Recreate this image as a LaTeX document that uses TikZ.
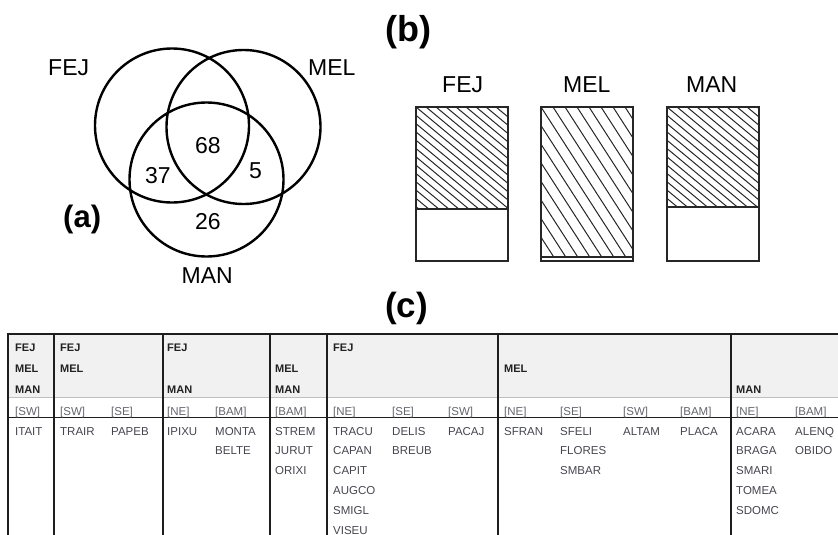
\documentclass[tikz,border=0pt]{standalone}
\usepackage{fontspec}
\setmainfont{Liberation Sans}
\definecolor{hdrbg}{HTML}{F1F1F1}
\definecolor{dattxt}{HTML}{45454F}
\definecolor{subtxt}{HTML}{65656F}
\definecolor{hdrtxt}{HTML}{222222}
\definecolor{rule}{HTML}{1E1E1E}
\begin{document}
\begin{tikzpicture}[x=1pt,y=-1pt,
  venn/.style={draw=black,line width=2.4pt},
  lab/.style={inner sep=0pt,anchor=base west,font=\fontsize{23}{23}\selectfont},
  panel/.style={inner sep=0pt,anchor=base west,font=\fontsize{35}{35}\selectfont\bfseries},
  barbox/.style={draw=black!85,line width=1.2pt},
  hatch/.style={draw=black!85,line width=1pt},
  hdr/.style={inner sep=0pt,anchor=base west,text=hdrtxt,font=\fontsize{11}{11}\selectfont\bfseries},
  subh/.style={inner sep=0pt,anchor=base west,text=subtxt,font=\fontsize{11.5}{11.5}\selectfont},
  dat/.style={inner sep=0pt,anchor=base west,text=dattxt,font=\fontsize{11.5}{11.5}\selectfont},
  vrule/.style={draw=rule,line width=2pt},
]
\useasboundingbox (0,0) rectangle (838,535);

% ---------------- (a) Venn ----------------
\draw[venn] (172,125.5) circle[radius=77pt];
\draw[venn] (243.5,127) circle[radius=77pt];
\draw[venn] (206.5,179.5) circle[radius=77pt];
\node[lab] (vfej) at (48,76) {FEJ};
\node[lab] (vmel) at (308,76) {MEL};
\node[lab] (vman) at (181.5,283) {MAN};
\node[lab] (n68) at (195,153) {68};
\node[lab] (n37) at (145,183) {37};
\node[lab] (n5) at (249,178) {5};
\node[lab] (n26) at (195,229) {26};
\node[panel,font=\fontsize{31}{31}\selectfont\bfseries] (pa) at (63,227) {(a)};

% ---------------- (b) bars ----------------
\node[panel,font=\fontsize{36}{36}\selectfont\bfseries] (pb) at (385,42) {(b)};
\node[lab] (bfej) at (442,92.5) {FEJ};
\node[lab] (bmel) at (563,92.5) {MEL};
\node[lab] (bman) at (686,92.5) {MAN};

\begin{scope}
  \clip (416,107) rectangle (508,209);
  \foreach \k in {-13,...,10} \draw[hatch] (416+\k*10,107) -- ++(130,108);
\end{scope}
\begin{scope}
  \clip (541,107) rectangle (633,257);
  \foreach \k in {-9,...,8} \draw[hatch] (541+\k*12,107) -- ++(100,155);
\end{scope}
\begin{scope}
  \clip (667,107) rectangle (759,207);
  \foreach \k in {-13,...,10} \draw[hatch] (667+\k*10,107) -- ++(130,108);
\end{scope}
\draw[barbox] (416,107) rectangle (508,261);
\draw[barbox] (416,209) -- (508,209);
\draw[barbox] (541,107) rectangle (633,261);
\draw[barbox] (541,257) -- (633,257);
\draw[barbox] (667,107) rectangle (759,261);
\draw[barbox] (667,207) -- (759,207);

% ---------------- (c) table ----------------
\node[panel] (pc) at (385,317) {(c)};
\fill[hdrbg] (8,334) rectangle (838,397);
\draw[draw=black!25,line width=0.6pt] (8,397) -- (838,397);
\draw[draw=rule,line width=1.5pt] (7,334) -- (838,334);
\draw[draw=rule,line width=0.9pt] (8,417.5) -- (838,417.5);
\foreach \x in {8,54,163,270,327,498,731}
  \draw[vrule] (\x,334) -- (\x,535);

% header
\node[hdr] (h1a) at (15,351.5) {FEJ};
\node[hdr] (h1b) at (15,372) {MEL};
\node[hdr] (h1c) at (15,393) {MAN};
\node[hdr] (h2a) at (60,351.5) {FEJ};
\node[hdr] (h2b) at (60,372) {MEL};
\node[hdr] (h3a) at (167,351.5) {FEJ};
\node[hdr] (h3c) at (167,393) {MAN};
\node[hdr] (h4b) at (275,372) {MEL};
\node[hdr] (h4c) at (275,393) {MAN};
\node[hdr] (h5a) at (333,351.5) {FEJ};
\node[hdr] (h6b) at (504,372) {MEL};
\node[hdr] (h7c) at (736,393) {MAN};

% sub header
\foreach \x/\t in {15/{[SW]},60/{[SW]},111/{[SE]},167/{[NE]},215/{[BAM]},275/{[BAM]},
  333/{[NE]},392/{[SE]},448/{[SW]},504/{[NE]},560/{[SE]},623/{[SW]},680/{[BAM]},736/{[NE]},795/{[BAM]}}
  \node[subh] (s\x) at (\x,415) {\t};

% data
\foreach \x/\lst in {15/{ITAIT},60/{TRAIR},111/{PAPEB},167/{IPIXU},215/{MONTA,BELTE},
  275/{STREM,JURUT,ORIXI},333/{TRACU,CAPAN,CAPIT,AUGCO,SMIGL,VISEU},392/{DELIS,BREUB},
  448/{PACAJ},504/{SFRAN},560/{SFELI,FLORES,SMBAR},623/{ALTAM},680/{PLACA},
  736/{ACARA,BRAGA,SMARI,TOMEA,SDOMC},795/{ALENQ,OBIDO}}
  \foreach \t [count=\r] in \lst
    \node[dat] (d\x-\r) at (\x,415.2+19.8*\r) {\t};
\end{tikzpicture}
\end{document}
